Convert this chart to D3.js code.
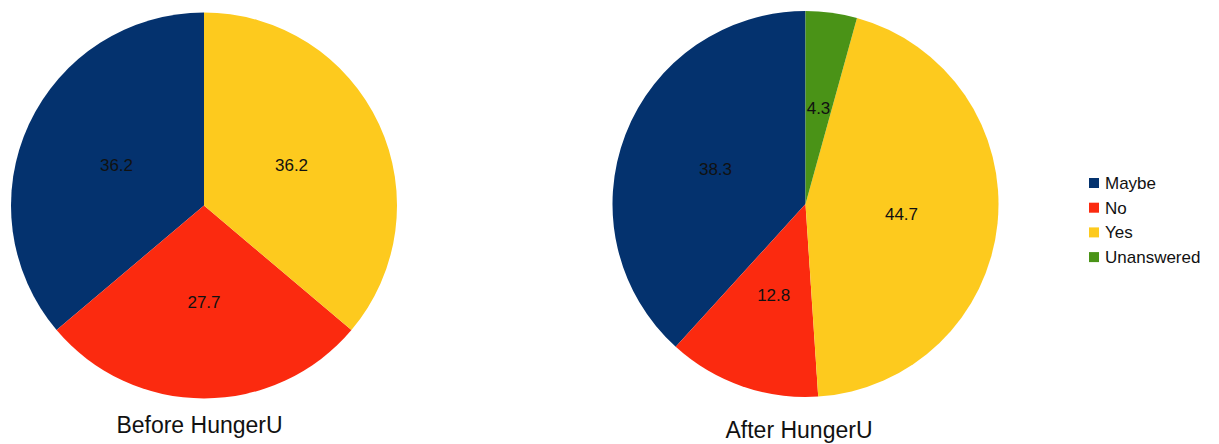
<!DOCTYPE html>
<html>
<head>
<meta charset="utf-8">
<script src="https://cdn.jsdelivr.net/npm/d3@7"></script>
<style>
  body { margin: 0; background: #fff; }
  svg { display: block; }
</style>
</head>
<body>
<div id="chart"></div>
<script>
// Answer categories, in the order the slices go (counter-clockwise from 12 o'clock)
const categories = ["Maybe", "No", "Yes", "Unanswered"]
const colors = ["#04326e", "#fb2a0f", "#fdca1e", "#4a9317"]

// Percent values
const beforeValues = [36.2, 27.7, 36.2, 0]
const afterValues = [38.3, 12.8, 44.7, 4.3]

const titles = ["Before HungerU", "After HungerU"]

const width = 1219
const height = 444

const color = d3.scaleOrdinal()
  .domain(categories)
  .range(colors)

const svg = d3.select("#chart").append("svg")
  .attr("width", width)
  .attr("height", height)
  .attr("style", "font-family: 'Liberation Sans', Arial, sans-serif;")

const radius = 193

// slices go counter-clockwise, starting at the top
const pie = d3.pie()
  .sort(null)
  .startAngle(0)
  .endAngle(-2 * Math.PI)
  .value(d => d.value)

const arc = d3.arc()
  .innerRadius(0)
  .outerRadius(radius)

const arcLabel = d3.arc()
  .innerRadius(radius / 2)
  .outerRadius(radius / 2)

const pies = [
  { title: titles[0], values: beforeValues, cx: 204, cy: 205.5, tx: 199.5, ty: 433, tsize: 23 },
  { title: titles[1], values: afterValues, cx: 805.5, cy: 204, tx: 799, ty: 438, tsize: 23 }
]

pies.forEach(p => {
  const data = categories.map((c, i) => ({ name: c, value: p.values[i] }))
  const arcs = pie(data).filter(d => d.data.value > 0)

  const g = svg.append("g")
    .attr("transform", `translate(${p.cx},${p.cy})`)

  g.append("g")
    .selectAll()
    .data(arcs)
    .join("path")
    .attr("fill", d => color(d.data.name))
    .attr("d", arc)

  g.append("g")
    .attr("text-anchor", "middle")
    .attr("font-size", 17)
    .attr("fill", "#111")
    .selectAll()
    .data(arcs)
    .join("text")
    .attr("transform", d => `translate(${arcLabel.centroid(d)})`)
    .attr("dy", "0.35em")
    .text(d => d.data.value.toFixed(1))

  svg.append("text")
    .attr("x", p.tx)
    .attr("y", p.ty)
    .attr("text-anchor", "middle")
    .attr("font-size", p.tsize)
    .attr("fill", "#111")
    .text(p.title)
})

// Legend
const legend = svg.append("g")
  .attr("transform", "translate(1089,178)")

const row = legend.selectAll()
  .data(categories)
  .join("g")
  .attr("transform", (d, i) => `translate(0,${i * 24.7})`)

row.append("rect")
  .attr("width", 10)
  .attr("height", 10)
  .attr("fill", d => color(d))

row.append("text")
  .attr("x", 16)
  .attr("y", 5)
  .attr("dy", "0.35em")
  .attr("font-size", 17)
  .attr("fill", "#111")
  .text(d => d)
</script>
</body>
</html>
